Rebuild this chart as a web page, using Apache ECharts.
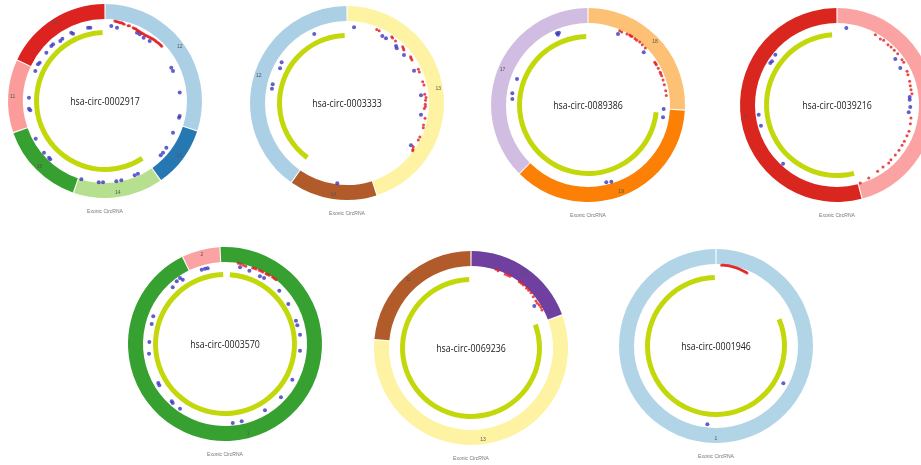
<!DOCTYPE html>
<html>
<head>
<meta charset="utf-8">
<script src="https://cdn.jsdelivr.net/npm/echarts@6/dist/echarts.min.js"></script>
<style>
  html, body { margin: 0; padding: 0; background: #fff; }
  #chart { width: 921px; height: 465px; }
</style>
</head>
<body>
<div id="chart"></div>
<script>
// ---- circRNA names (centre labels) ----
const circNames = ['hsa-circ-0002917', 'hsa-circ-0003333', 'hsa-circ-0089386', 'hsa-circ-0039216',
                   'hsa-circ-0003570', 'hsa-circ-0069236', 'hsa-circ-0001946'];
const circType = 'Exonic CircRNA';

// ---- exon segment boundaries (degrees clockwise from top) ----
const exonBounds1 = [0, 108, 145, 199, 251, 295, 360];
const exonBounds2 = [0, 162, 215, 360];
const exonBounds3 = [0, 93, 225, 360];
const exonBounds4 = [0, 165, 360];
const exonBounds5 = [-3, 334, 357];
const exonBounds6 = [0, 70, 275, 360];
const exonBounds7 = [0, 360];

// ---- exon labels ----
const exonLabels1 = ['12', '13', '14', '15', '11', '10'];
const exonLabels2 = ['13', '14', '12'];
const exonLabels3 = ['18', '19', '17'];
const exonLabels4 = ['5', '4'];
const exonLabels5 = ['1', '2'];
const exonLabels6 = ['12', '13', '11'];
const exonLabels7 = ['1'];

// ---- back-splice arc span (start, end degrees) ----
const spliceArc1 = [147, 358];
const spliceArc2 = [216, 358];
const spliceArc3 = [96, 358.5];
const spliceArc4 = [166, 356];
const spliceArc5 = [4, 358.5];
const spliceArc6 = [70, 358.5];
const spliceArc7 = [67, 359];

// ---- miRNA binding sites [radius score, angle] ----
const mirSites1 = [[80.5,7],[80.3,8],[80.2,9],[80,10],[79.8,11],[79.9,12],[79.6,13],[79.2,14],[78.8,17],[79,18],
  [78.5,21],[78.2,22],[78.4,23],[78,24],[77.8,25],[77.6,26],[77.5,27],[77.3,28],[77.2,29],[77.4,30],[77,31],
  [77.2,32],[77.5,33],[77.6,34],[77.8,35],[78,36],[78.2,37],[78.4,38],[78.5,39],[78.6,40],[78.4,41],[78.7,42],
  [78.8,43],[78.9,44],[79,45],[78.8,46]];
const mirSites2 = [[79.4,22],[79.1,24],[80,34],[79.5,35],[78.8,38],[79.2,44.7],[78.5,46],[77.8,47],[78.7,54],
  [78.2,55],[77.9,56.5],[78.9,64.7],[78.7,66.8],[78.6,74.3],[79.1,76.8],[78.2,83.6],[79.2,86],[78.6,88],[78.3,91],
  [78.5,92.5],[77.5,94],[79.5,101],[79.6,106],[80.2,108],[80.4,115],[80.3,117.4],[79.4,123.4],[80.5,125],[81.2,126]];
const mirSites3 = [[80.8,23.1],[80.4,24.8],[81,28.8],[81.5,30.8],[81.2,31.8],[81.4,32.7],[81.2,35.4],[81,37],
  [81.4,39.4],[81.1,42],[80.8,45.2],[79.2,57.4],[79.3,58.5],[79.3,59.5],[79.3,62.4],[79.3,65.7],[79.1,66.8],
  [79.3,68.3],[79.1,71.6],[79,75.1],[79,79.6],[78.9,83]];
const mirSites4 = [[80.1,28.6],[78.9,33.3],[79.8,35.8],[79,40.2],[79.3,43],[79.2,46.3],[79.5,49.8],[79.2,55.1],
  [79.2,57.4],[77.7,64.3],[77.2,66.9],[76.4,71.9],[75.8,75.2],[75.6,78.3],[75.8,81.4],[75.1,100],[75.7,104.3],
  [76.7,110.1],[76.4,113.7],[76.5,118.3],[76.5,121.8],[76.8,126.2],[76.8,130.6],[76.8,135.4],[77.7,138.3],
  [77.2,143.4],[77.8,148.5],[79.6,156.5],[81.4,163.4]];
const mirSites5 = [[81.8,9.4],[81.5,11.1],[80.8,13.1],[80.4,14.9],[80.9,20],[81.2,21.2],[81.2,22.5],[81.3,25],
  [81.3,26.3],[81.3,27.6],[81.4,30.3],[81.5,31.5],[81.7,32.8],[82,35.6],[82.1,37],[82.1,38.4]];
const mirSites6 = [[82.5,17.6],[81.9,19.3],[81.3,25],[81.4,26.8],[81.6,28.5],[82,36.1],[81.9,37.9],[81.9,39.7],
  [81.6,43],[81.6,45],[81.6,47.3],[80.7,50.5],[80.2,54.1],[80,56],[80.7,57.8],[81,59.8],[80.5,61.8]];
const mirSites7 = [[81,4],[81.2,5],[81.3,6],[81.2,7],[81.4,8],[81.3,9],[81.2,10],[81.1,11],[81,12],[80.9,13],
  [80.8,14],[80.7,15],[80.5,16],[80.4,17],[80.2,18],[80,19],[79.8,20],[79.7,21],[79.5,22],[79.4,23]];

// ---- RBP binding sites [radius score, angle] ----
const rbpSites1 = [[75.3,4.8],[74.3,9.3],[75.3,347],[74.8,348.7],[76.2,333.7],[74.5,334.6],[75.5,325.6],[74.8,323.3],
  [76.9,317.5],[76.9,315.7],[76,309.5],[75.7,300.4],[76.4,298.7],[75.9,293.3],[76.1,272.5],[76.4,264.2],[75.3,262.9],
  [78.9,241.5],[80,229.7],[79.7,224.6],[80,223.2],[81.8,196.8],[81.5,184.4],[81.3,181.4],[81.1,172],[81,168.4],
  [80,158.2],[79.8,155.6],[77.8,134.3],[77.7,131.7],[77.1,127.3],[75,115],[75.9,102.7],[76.2,101.4],[75.2,83.6],
  [74.2,63.3],[74.3,66.2],[75.4,25.1],[75.2,27.5],[74.2,31.4],[74.8,36.7]];
const rbpSites2 = [[76,5.3],[76.4,334.6],[75.7,27.8],[75.5,31.1],[75.2,40.7],[73.9,42.3],[74.5,49.9],[74.4,64.3],
  [74.4,84.1],[74.9,99],[76.7,123.5],[77,301.9],[75.4,297.4],[76.6,284.1],[76.4,280.8],[80.9,186.9]];
const rbpSites3 = [[78.1,336.6],[77.9,338.1],[76.5,336.9],[77.1,22.9],[76.7,46.6],[75.6,290.1],[76.6,278.8],
  [75.9,274.5],[75.8,93],[76,99.3],[79.4,166.7],[80.2,163.1]];
const rbpSites4 = [[77.6,6.9],[74.3,51.7],[73.3,59.7],[78.8,302.2],[78.3,303.9],[79.6,309.2],[78.9,262.9],
  [78.8,254.8],[79.7,222.6],[73.1,83.7],[72.9,85.8],[73.3,91.6],[72.1,95.8]];
const rbpSites5 = [[77.9,342.6],[77.9,345.1],[77.6,347.1],[78.1,11.1],[77.3,18.4],[76.2,27.3],[76.7,30.6],
  [79.9,325.7],[77,326.7],[79.1,322.4],[77.1,317.3],[76.1,45.5],[74.9,57.7],[74.7,71.8],[74.7,75.5],[75.6,82.9],
  [75.3,95.1],[76.9,291.1],[76,285.3],[75.7,271.5],[76.6,262.7],[77.3,239.7],[77.6,237.8],[78.3,222.9],
  [78.8,221.6],[78.8,214.8],[76.2,117.9],[77.3,133.6],[77.4,148.9],[79.1,167.8],[79.4,174.4]];
const rbpSites6 = [[76,56.4]];
const rbpSites7 = [[77,119],[78.8,186.3]];

// ---- layout of the seven panels ----
const panelCenters = [[105, 101], [347, 103], [588, 105], [837, 105], [225, 344], [471, 348], [716, 346]];
const exonColors = [
  ['#abd0e5', '#2678b2', '#b6e08f', '#36a030', '#fb9c9b', '#dd2320'],
  ['#fef3a2', '#b15a2a', '#abd0e5'],
  ['#fdc175', '#fb8005', '#d2bde2'],
  ['#fba3a2', '#d9261f'],
  ['#36a030', '#fba3a2'],
  ['#7040a0', '#fef3a2', '#b15a2a'],
  ['#b2d4e7']
];
const arcRadii = [[66, 71], [65, 70], [66, 71], [68, 73], [67, 72], [66, 71], [66, 71]];

const exonBounds = [exonBounds1, exonBounds2, exonBounds3, exonBounds4, exonBounds5, exonBounds6, exonBounds7];
const exonLabels = [exonLabels1, exonLabels2, exonLabels3, exonLabels4, exonLabels5, exonLabels6, exonLabels7];
const spliceArcs = [spliceArc1, spliceArc2, spliceArc3, spliceArc4, spliceArc5, spliceArc6, spliceArc7];
const mirSites = [mirSites1, mirSites2, mirSites3, mirSites4, mirSites5, mirSites6, mirSites7];
const rbpSites = [rbpSites1, rbpSites2, rbpSites3, rbpSites4, rbpSites5, rbpSites6, rbpSites7];

const RING_OUT = 97, RING_IN = 82;
const polar = [], angleAxis = [], radiusAxis = [], series = [], graphic = [];

panelCenters.forEach(function (c, i) {
  const bounds = exonBounds[i];
  // outer exon ring
  const ringData = [];
  for (let k = 0; k < bounds.length - 1; k++) {
    ringData.push({
      value: bounds[k + 1] - bounds[k],
      name: exonLabels[i][k],
      itemStyle: { color: exonColors[i][k] }
    });
  }
  series.push({
    type: 'pie', center: c, radius: [RING_IN, RING_OUT], startAngle: 90 - bounds[0],
    clockwise: true, padAngle: 0.7, silent: true, animation: false,
    label: { show: true, position: 'inside', formatter: '{b}', fontSize: 5, color: '#555',
             fontFamily: 'Liberation Sans' },
    labelLine: { show: false }, emphasis: { disabled: true },
    data: ringData
  });
  // back-splice arc
  const arc = spliceArcs[i];
  series.push({
    type: 'pie', center: c, radius: arcRadii[i], startAngle: 90 - arc[0],
    clockwise: true, silent: true, animation: false,
    label: { show: false }, labelLine: { show: false }, emphasis: { disabled: true },
    data: [
      { value: arc[1] - arc[0], itemStyle: { color: '#c2d80a' } },
      { value: 360 - (arc[1] - arc[0]), itemStyle: { color: 'rgba(0,0,0,0)' } }
    ]
  });
  // polar frame for binding sites
  polar.push({ center: c, radius: RING_OUT });
  angleAxis.push({ polarIndex: i, type: 'value', min: 0, max: 360, startAngle: 90, clockwise: true, show: false });
  radiusAxis.push({ polarIndex: i, type: 'value', min: 0, max: RING_OUT, show: false });
  series.push({
    type: 'scatter', coordinateSystem: 'polar', polarIndex: i, symbolSize: 4, silent: true,
    animation: false, itemStyle: { color: '#3a36c0' }, data: rbpSites[i]
  });
  series.push({
    type: 'scatter', coordinateSystem: 'polar', polarIndex: i, symbolSize: 3, silent: true,
    animation: false, itemStyle: { color: '#e41a1c' }, data: mirSites[i]
  });
  // centre name and caption
  graphic.push({
    type: 'text', x: c[0], y: c[1] + 1, scaleX: 0.8, silent: true,
    style: { text: circNames[i], textAlign: 'center', textVerticalAlign: 'middle',
             font: '11px "Open Sans", sans-serif', fill: '#222' }
  });
  graphic.push({
    type: 'text', x: c[0], y: c[1] + 111, silent: true,
    style: { text: circType, textAlign: 'center', textVerticalAlign: 'middle',
             font: '5px "Liberation Sans", sans-serif', fill: '#777' }
  });
});

const chart = echarts.init(document.getElementById('chart'), null, { renderer: 'canvas' });
chart.setOption({
  backgroundColor: '#fff',
  animation: false,
  polar: polar,
  angleAxis: angleAxis,
  radiusAxis: radiusAxis,
  series: series,
  graphic: graphic
});
</script>
</body>
</html>
